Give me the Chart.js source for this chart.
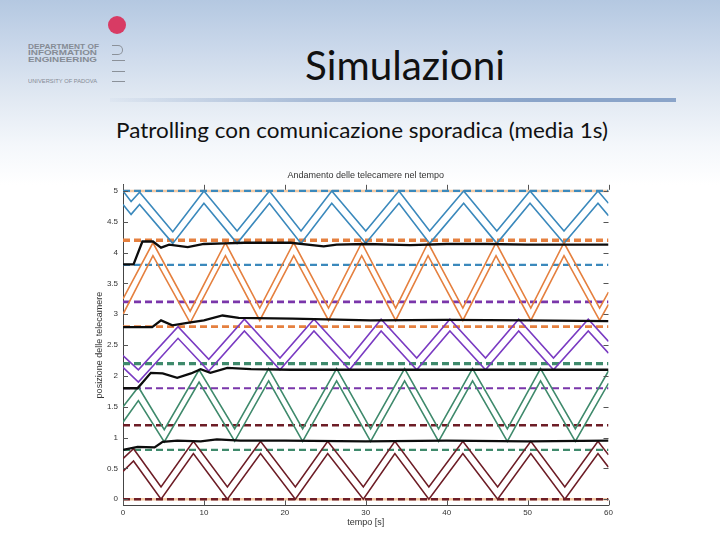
<!DOCTYPE html>
<html>
<head>
<meta charset="utf-8">
<script src="https://cdn.jsdelivr.net/npm/chart.js@4.4.1/dist/chart.umd.min.js"></script>
<style>
html,body{margin:0;padding:0;}
body{width:720px;height:540px;position:relative;overflow:hidden;
  background:linear-gradient(180deg,#b4c8e1 0px,#c9d7ea 45px,#e0e8f2 95px,#f4f7fb 145px,#ffffff 185px);}
.t{position:absolute;white-space:nowrap;line-height:1;transform-origin:left center;}
#wrap{position:absolute;left:80px;top:160px;width:550px;height:380px;}
</style>
</head>
<body>
<!-- logo -->
<div style="position:absolute;left:107.5px;top:16px;width:18px;height:18px;border-radius:50%;background:#d83b64;"></div>
<div style="position:absolute;left:111.5px;top:44.5px;width:10px;height:8px;border:1.6px solid #8b9199;border-left:none;border-radius:0 5px 5px 0;"></div>
<div style="position:absolute;left:111.5px;top:59.5px;width:13px;height:1.6px;background:#8b9199;"></div>
<div style="position:absolute;left:111.5px;top:70.5px;width:13px;height:1.6px;background:#8b9199;"></div>
<div style="position:absolute;left:111.5px;top:80.5px;width:13px;height:1.6px;background:#8b9199;"></div>
<div class="t fit" data-w="71" style="left:27.5px;top:41.5px;font:bold 7.5px 'Liberation Sans',sans-serif;color:#858b94;">DEPARTMENT OF</div>
<div class="t fit" data-w="69" style="left:27.5px;top:48px;font:bold 7.5px 'Liberation Sans',sans-serif;color:#858b94;">INFORMATION</div>
<div class="t fit" data-w="69" style="left:27.5px;top:54.5px;font:bold 7.5px 'Liberation Sans',sans-serif;color:#858b94;">ENGINEERING</div>
<div class="t fit" data-w="69" style="left:27.5px;top:79px;font:4.5px 'Liberation Sans',sans-serif;color:#858b94;">UNIVERSITY OF PADOVA</div>

<!-- title -->
<div class="t fit" data-w="200" style="left:305px;top:40px;font:41px 'Lato',sans-serif;color:#111;">Simulazioni</div>
<div style="position:absolute;left:110px;top:98px;width:566px;height:4px;background:linear-gradient(to right,rgba(180,198,222,0.1),#a9bcd7 35%,#8aa4c9 75%,#8aa4c9);"></div>
<div class="t fit" data-w="492" style="left:116px;top:115.5px;font:22px 'Lato',sans-serif;color:#111;">Patrolling con comunicazione sporadica (media 1s)</div>

<div id="wrap"><canvas id="c" width="550" height="380"></canvas></div>

<script>
// ---------------- DATA ----------------
const xTickValues = [0, 10, 20, 30, 40, 50, 60];
const xTickLabels = ['0', '10', '20', '30', '40', '50', '60'];
const yTickValues = [0, 0.5, 1, 1.5, 2, 2.5, 3, 3.5, 4, 4.5, 5];
const yTickLabels = ['0', '0.5', '1', '1.5', '2', '2.5', '3', '3.5', '4', '4.5', '5'];

// camera 1 (dark red) – field of view edges
const cam1Times = [0, 1.3, 4.7, 8.7, 12.9, 17.0, 21.3, 25.3, 29.7, 33.6, 37.8, 42.0, 46.3, 50.4, 54.6, 58.7, 60];
const cam1Upper = [0.66, 0.82, 0.20, 0.94, 0.20, 0.94, 0.20, 0.94, 0.20, 0.94, 0.20, 0.94, 0.20, 0.94, 0.20, 0.94, 0.72];
const cam1Lower = [0.45, 0.62, 0.00, 0.74, 0.00, 0.74, 0.00, 0.74, 0.00, 0.74, 0.00, 0.74, 0.00, 0.74, 0.00, 0.74, 0.52];
// camera 2 (green)
const cam2Times = [0, 1.9, 5.1, 9.4, 13.8, 18.0, 22.2, 26.4, 30.6, 34.8, 39.0, 43.2, 47.5, 51.6, 55.9, 60];
const cam2Upper = [1.50, 1.82, 1.13, 2.10, 1.14, 2.12, 1.14, 2.12, 1.14, 2.12, 1.14, 2.12, 1.14, 2.12, 1.14, 2.08];
const cam2Lower = [1.25, 1.60, 0.93, 1.90, 0.94, 1.92, 0.94, 1.92, 0.94, 1.92, 0.94, 1.92, 0.94, 1.92, 0.94, 1.88];
// camera 3 (purple)
const cam3Times = [0, 1.9, 6.8, 10.6, 15.0, 19.4, 23.6, 28.0, 31.9, 36.3, 40.4, 44.8, 48.9, 53.2, 57.5, 60];
const cam3Upper = [2.33, 2.10, 2.80, 2.27, 2.92, 2.29, 2.92, 2.29, 2.92, 2.29, 2.92, 2.29, 2.92, 2.29, 2.92, 2.56];
const cam3Lower = [2.14, 1.90, 2.61, 2.08, 2.73, 2.10, 2.73, 2.10, 2.73, 2.10, 2.73, 2.10, 2.73, 2.10, 2.73, 2.37];
// camera 4 (orange)
const cam4Times = [0, 3.7, 8.3, 12.66, 16.9, 21.1, 25.4, 29.5, 33.7, 37.7, 42.0, 46.1, 50.4, 54.5, 58.9, 60];
const cam4Upper = [3.25, 4.16, 3.05, 4.16, 3.10, 4.16, 3.10, 4.16, 3.10, 4.16, 3.10, 4.16, 3.10, 4.16, 3.10, 3.36];
const cam4Lower = [3.00, 3.95, 2.86, 3.95, 2.90, 3.95, 2.90, 3.95, 2.90, 3.95, 2.90, 3.95, 2.90, 3.95, 2.90, 3.16];
// camera 5 (blue)
const cam5Times = [0, 1.0, 2.05, 6.15, 10.0, 14.1, 18.1, 22.0, 25.8, 30.0, 34.1, 37.9, 42.1, 46.2, 50.3, 54.5, 58.7, 60];
const cam5Upper = [5.00, 4.83, 4.98, 4.34, 5.00, 4.35, 5.00, 4.35, 5.00, 4.35, 5.00, 4.35, 5.00, 4.35, 5.00, 4.35, 5.00, 4.80];
const cam5Lower = [4.78, 4.62, 4.78, 4.15, 4.80, 4.15, 4.80, 4.15, 4.80, 4.15, 4.80, 4.15, 4.80, 4.15, 4.80, 4.15, 4.80, 4.60];

// estimated boundaries between neighbouring cameras (black)
const sep1Times = [0, 1.8, 3.9, 4.9, 6.7, 9.6, 11.6, 14.5, 20, 30, 40, 50, 60];
const sep1Values = [0.80, 0.85, 0.84, 0.93, 0.95, 0.94, 0.97, 0.95, 0.95, 0.94, 0.95, 0.94, 0.95];
const sep2Times = [0, 1.8, 3.44, 4.9, 6.7, 8.4, 9.6, 10.8, 12.9, 15.8, 20.7, 30, 40, 50, 60];
const sep2Values = [1.80, 1.80, 2.05, 2.04, 1.97, 2.04, 2.11, 2.05, 2.13, 2.11, 2.10, 2.10, 2.10, 2.10, 2.10];
const sep3Times = [0, 3.6, 4.7, 6.1, 7.95, 10.0, 12.3, 14.3, 20.9, 30.6, 40, 50, 60];
const sep3Values = [2.79, 2.79, 2.90, 2.82, 2.86, 2.90, 2.98, 2.94, 2.93, 2.90, 2.91, 2.90, 2.89];
const sep4Times = [0, 1.3, 2.4, 3.7, 4.7, 5.7, 8.0, 10.0, 12.6, 15.0, 20.7, 24.8, 26.4, 30, 35.5, 40, 45, 50, 55, 60];
const sep4Values = [3.81, 3.81, 4.18, 4.18, 4.08, 4.13, 4.09, 4.14, 4.15, 4.16, 4.16, 4.10, 4.13, 4.14, 4.12, 4.14, 4.14, 4.13, 4.13, 4.13];

// patrol limits of each camera (dashed)
const cam1Limits = [0, 1.2];
const cam2Limits = [0.8, 2.2];
const cam3Limits = [1.8, 3.2];
const cam4Limits = [2.8, 4.2];
const cam5Limits = [3.8, 5.0];
// overall segment ends
const segmentEnds = [0, 5];

// ---------------- STYLES ----------------
const camColors = ['#6d1d26', '#3f8a6c', '#7a3bc2', '#e5803f', '#3b89bc'];
const limitColors = ['#6d1d26', '#3f8a6c', '#7a36aa', '#e5803f', '#3b89bc'];
const limitWidths = [[2.5, 2.5], [2.2, 3.2], [2.2, 2.8], [2.6, 3.6], [2.3, 2.3]];

const xMin = 0, xMax = 60;
const pts = (T, V) => T.map((t, i) => ({x: t, y: V[i]}));
const hline = v => [{x: xMin, y: v}, {x: xMax, y: v}];

const cams = [
  [cam1Times, cam1Upper, cam1Lower, cam1Limits],
  [cam2Times, cam2Upper, cam2Lower, cam2Limits],
  [cam3Times, cam3Upper, cam3Lower, cam3Limits],
  [cam4Times, cam4Upper, cam4Lower, cam4Limits],
  [cam5Times, cam5Upper, cam5Lower, cam5Limits]
];
const seps = [[sep1Times, sep1Values], [sep2Times, sep2Values], [sep3Times, sep3Values], [sep4Times, sep4Values]];

const datasets = [];
segmentEnds.forEach(v => datasets.push({data: hline(v), borderColor: '#f3c8a2', borderWidth: 2.5, order: 4}));
cams.forEach((c, i) => {
  c[3].forEach((v, k) => datasets.push({data: hline(v), borderColor: limitColors[i], borderWidth: limitWidths[i][k], borderDash: [7, 4], order: 3}));
});
cams.forEach((c, i) => {
  datasets.push({data: pts(c[0], c[1]), borderColor: camColors[i], borderWidth: 1.6, order: 2});
  datasets.push({data: pts(c[0], c[2]), borderColor: camColors[i], borderWidth: 1.6, order: 2});
});
seps.forEach(s => datasets.push({data: pts(s[0], s[1]), borderColor: '#0c0c0c', borderWidth: 2.3, order: 1}));

const inTicks = {
  id: 'inTicks',
  afterDraw(chart) {
    const {ctx, chartArea: a, scales: {x, y}} = chart;
    ctx.save();
    ctx.strokeStyle = '#555';
    ctx.lineWidth = 1;
    ctx.beginPath();
    xTickValues.forEach(v => {
      const px = Math.round(x.getPixelForValue(v)) + 0.5;
      ctx.moveTo(px, a.bottom); ctx.lineTo(px, a.bottom - 5);
      ctx.moveTo(px, a.top); ctx.lineTo(px, a.top + 5);
    });
    yTickValues.forEach(v => {
      const py = Math.round(y.getPixelForValue(v)) + 0.5;
      ctx.moveTo(a.left, py); ctx.lineTo(a.left + 5, py);
      ctx.moveTo(a.right, py); ctx.lineTo(a.right - 5, py);
    });
    ctx.stroke();
    ctx.restore();
  }
};

const tickFont = {family: "'Liberation Sans', Arial, sans-serif", size: 8};
new Chart(document.getElementById('c'), {
  type: 'line',
  data: {datasets},
  plugins: [inTicks],
  options: {
    responsive: false,
    animation: false,
    devicePixelRatio: 1,
    layout: {padding: {left: 0, right: 21.5, top: 0, bottom: 7.6}},
    elements: {point: {radius: 0}, line: {tension: 0, borderCapStyle: 'butt'}},
    plugins: {
      legend: {display: false},
      tooltip: {enabled: false},
      title: {
        display: true, fullSize: false,
        text: 'Andamento delle telecamere nel tempo',
        color: '#333', font: {family: "'Liberation Sans', Arial, sans-serif", size: 9, weight: 'normal'},
        padding: {top: 10, bottom: 4}
      }
    },
    scales: {
      x: {
        type: 'linear', min: xMin, max: xMax,
        afterFit(s) { s.height = 27; },
        afterBuildTicks(s) { s.ticks = xTickValues.map(v => ({value: v})); },
        ticks: {font: tickFont, color: '#333', padding: 3, maxRotation: 0, autoSkip: false,
                callback: (v, i) => xTickLabels[i]},
        grid: {drawOnChartArea: false, drawTicks: false},
        border: {display: true, color: '#444', width: 1},
        title: {display: true, text: 'tempo [s]', color: '#333',
                font: {family: "'Liberation Sans', Arial, sans-serif", size: 9}, padding: {top: 0, bottom: 4}}
      },
      y: {
        type: 'linear', min: -0.1, max: 5.1,
        afterFit(s) { s.width = 43; },
        afterBuildTicks(s) { s.ticks = yTickValues.map(v => ({value: v})); },
        ticks: {font: tickFont, color: '#333', padding: 5, autoSkip: false,
                callback: (v, i) => yTickLabels[i]},
        grid: {drawOnChartArea: false, drawTicks: false},
        border: {display: true, color: '#444', width: 1},
        title: {display: true, text: 'posizione delle telecamere', color: '#333',
                font: {family: "'Liberation Sans', Arial, sans-serif", size: 9}, padding: {top: 14.6, bottom: 0}}
      }
    }
  }
});

// fit slide texts to their measured widths
document.querySelectorAll('.fit').forEach(el => {
  el.style.display = 'inline-block';
  const w = el.getBoundingClientRect().width;
  const target = parseFloat(el.dataset.w);
  if (w > 0) el.style.transform = 'scaleX(' + (target / w) + ')';
});
</script>
</body>
</html>
